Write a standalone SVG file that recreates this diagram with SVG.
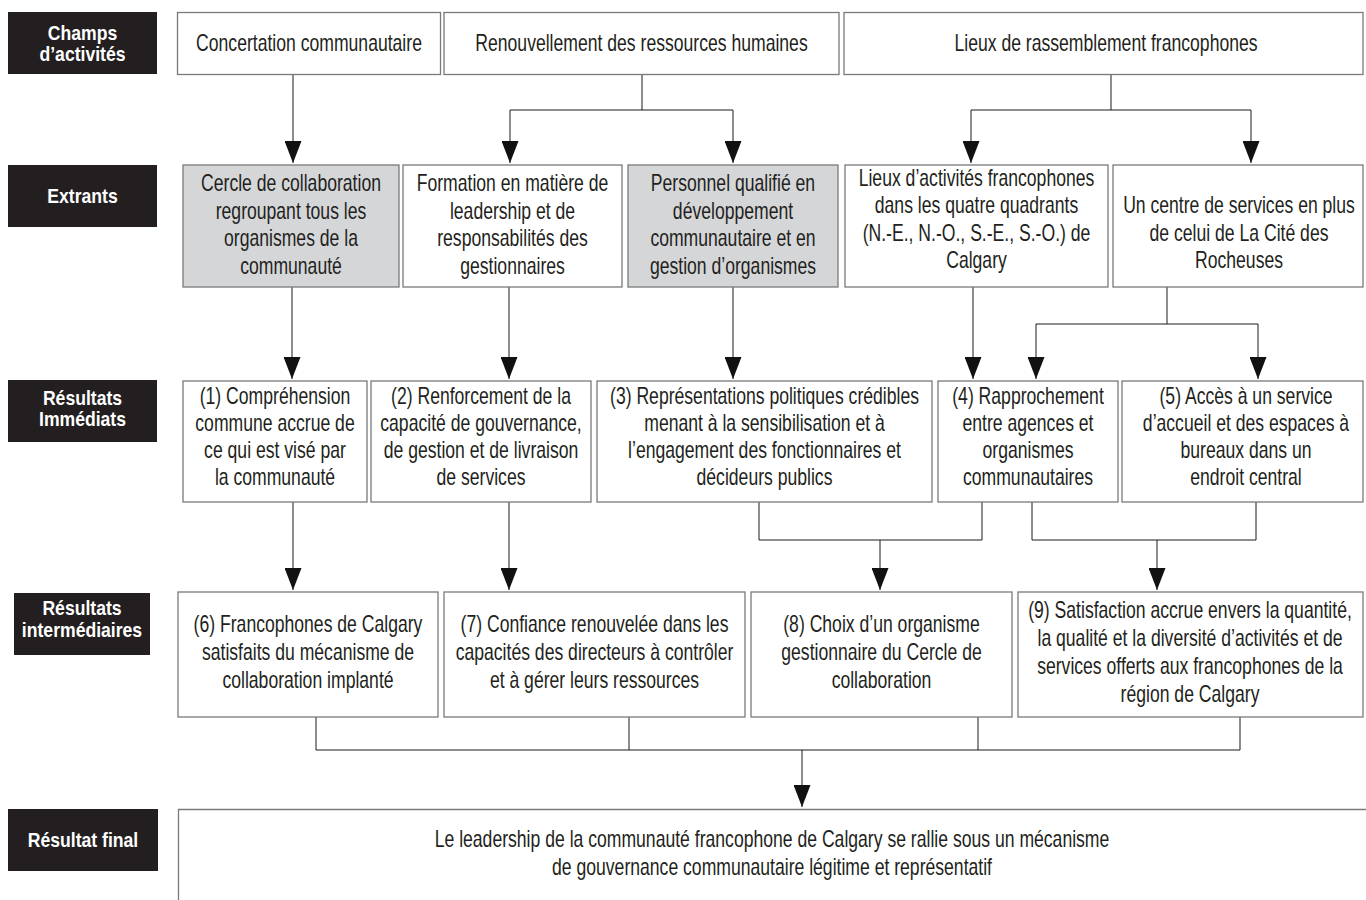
<svg xmlns="http://www.w3.org/2000/svg" width="1366" height="900" viewBox="0 0 1366 900">
<style>
.box{fill:#fff;stroke:#7a7a7a;stroke-width:1.3}
.gray{fill:#d5d6d8}
.lbl{fill:#231f20}
.t{font-family:"Liberation Sans",Arial,sans-serif;font-size:23px;fill:#231f20;text-anchor:middle}
.lt{font-family:"Liberation Sans",Arial,sans-serif;font-size:20px;font-weight:bold;fill:#fff;text-anchor:middle}
.c{fill:none;stroke:#1a1a1a;stroke-width:1}
</style>
<defs>
<marker id="ah" markerUnits="userSpaceOnUse" markerWidth="22" markerHeight="17" viewBox="0 0 22 17" refX="22" refY="8.5" orient="auto">
<path d="M0,0 L22,8.5 L0,17 z" fill="#111"/>
</marker>
</defs>
<rect width="1366" height="900" fill="#fff"/>

<g id="labels">
<g id="lbl-champs"><rect class="lbl" x="8" y="12" width="149" height="62"/>
<text class="lt" transform="translate(82.5,0) scale(0.88,1)"><tspan x="0" y="40">Champs</tspan><tspan x="0" y="61">d’activités</tspan></text></g>
<g id="lbl-extrants"><rect class="lbl" x="8" y="165" width="149" height="62"/>
<text class="lt" transform="translate(82.5,0) scale(0.88,1)"><tspan x="0" y="203">Extrants</tspan></text></g>
<g id="lbl-immediats"><rect class="lbl" x="8" y="380" width="149" height="62"/>
<text class="lt" transform="translate(82.5,0) scale(0.88,1)"><tspan x="0" y="405">Résultats</tspan><tspan x="0" y="426">Immédiats</tspan></text></g>
<g id="lbl-intermediaires"><rect class="lbl" x="14" y="593" width="136" height="62"/>
<text class="lt" transform="translate(82,0) scale(0.88,1)"><tspan x="0" y="615">Résultats</tspan><tspan x="0" y="637">intermédiaires</tspan></text></g>
<g id="lbl-final"><rect class="lbl" x="8" y="809" width="150" height="62"/>
<text class="lt" transform="translate(83,0) scale(0.88,1)"><tspan x="0" y="847">Résultat final</tspan></text></g>
</g>

<g id="connectors" class="c">
<path d="M293,74 V163" marker-end="url(#ah)"/>
<path d="M642,74 V110 M510,110 H733"/>
<path d="M510,110 V163" marker-end="url(#ah)"/>
<path d="M733,110 V163" marker-end="url(#ah)"/>
<path d="M1111,74 V110 M971,110 H1251"/>
<path d="M971,110 V163" marker-end="url(#ah)"/>
<path d="M1251,110 V163" marker-end="url(#ah)"/>
<path d="M292,287 V379" marker-end="url(#ah)"/>
<path d="M509,287 V379" marker-end="url(#ah)"/>
<path d="M733,287 V379" marker-end="url(#ah)"/>
<path d="M973,287 V379" marker-end="url(#ah)"/>
<path d="M1167,287 V324 M1036,324 H1258"/>
<path d="M1036,324 V379" marker-end="url(#ah)"/>
<path d="M1258,324 V379" marker-end="url(#ah)"/>
<path d="M293,502 V590" marker-end="url(#ah)"/>
<path d="M509,502 V590" marker-end="url(#ah)"/>
<path d="M759,502 V540 H982 V502"/>
<path d="M880,540 V590" marker-end="url(#ah)"/>
<path d="M1032,502 V540 H1256 V502"/>
<path d="M1157,540 V590" marker-end="url(#ah)"/>
<path d="M316,717 V750 H1240 V717 M629,717 V750 M978,717 V750"/>
<path d="M802,750 V807" marker-end="url(#ah)"/>
</g>

<g id="n-concertation"><rect class="box" x="177.5" y="12.5" width="263" height="62"/>
<text class="t" transform="translate(309,0) scale(0.765,1)"><tspan x="0" y="51">Concertation communautaire</tspan></text></g>
<g id="n-renouvellement"><rect class="box" x="444" y="12.5" width="395" height="62"/>
<text class="t" transform="translate(641.5,0) scale(0.765,1)"><tspan x="0" y="51">Renouvellement des ressources humaines</tspan></text></g>
<g id="n-lieux"><rect class="box" x="844" y="12.5" width="519" height="62"/>
<text class="t" transform="translate(1106,0) scale(0.765,1)"><tspan x="0" y="51">Lieux de rassemblement francophones</tspan></text></g>

<g id="n-cercle"><rect class="box gray" x="183" y="165" width="216" height="122"/>
<text class="t" transform="translate(291,0) scale(0.765,1)"><tspan x="0" y="191">Cercle de collaboration</tspan><tspan x="0" y="219">regroupant tous les</tspan><tspan x="0" y="246">organismes de la</tspan><tspan x="0" y="274">communauté</tspan></text></g>
<g id="n-formation"><rect class="box" x="403" y="165" width="219" height="122"/>
<text class="t" transform="translate(512.5,0) scale(0.765,1)"><tspan x="0" y="191">Formation en matière de</tspan><tspan x="0" y="219">leadership et de</tspan><tspan x="0" y="246">responsabilités des</tspan><tspan x="0" y="274">gestionnaires</tspan></text></g>
<g id="n-personnel"><rect class="box gray" x="628" y="165" width="210" height="122"/>
<text class="t" transform="translate(733,0) scale(0.765,1)"><tspan x="0" y="191">Personnel qualifié en</tspan><tspan x="0" y="219">développement</tspan><tspan x="0" y="246">communautaire et en</tspan><tspan x="0" y="274">gestion d’organismes</tspan></text></g>
<g id="n-lieux-activites"><rect class="box" x="845" y="165" width="263" height="122"/>
<text class="t" transform="translate(976.5,0) scale(0.765,1)"><tspan x="0" y="186">Lieux d’activités francophones</tspan><tspan x="0" y="213">dans les quatre quadrants</tspan><tspan x="0" y="241">(N.-E., N.-O., S.-E., S.-O.) de</tspan><tspan x="0" y="268">Calgary</tspan></text></g>
<g id="n-centre"><rect class="box" x="1113" y="165" width="250" height="122"/>
<text class="t" transform="translate(1239,0) scale(0.765,1)"><tspan x="0" y="213">Un centre de services en plus</tspan><tspan x="0" y="241">de celui de La Cité des</tspan><tspan x="0" y="268">Rocheuses</tspan></text></g>

<g id="n-r1"><rect class="box" x="183" y="381" width="184" height="121"/>
<text class="t" transform="translate(275,0) scale(0.765,1)"><tspan x="0" y="404">(1) Compréhension</tspan><tspan x="0" y="431">commune accrue de</tspan><tspan x="0" y="458">ce qui est visé par</tspan><tspan x="0" y="485">la communauté</tspan></text></g>
<g id="n-r2"><rect class="box" x="371" y="381" width="220" height="121"/>
<text class="t" transform="translate(481,0) scale(0.765,1)"><tspan x="0" y="404">(2) Renforcement de la</tspan><tspan x="0" y="431">capacité de gouvernance,</tspan><tspan x="0" y="458">de gestion et de livraison</tspan><tspan x="0" y="485">de services</tspan></text></g>
<g id="n-r3"><rect class="box" x="597" y="381" width="335" height="121"/>
<text class="t" transform="translate(764.5,0) scale(0.765,1)"><tspan x="0" y="404">(3) Représentations politiques crédibles</tspan><tspan x="0" y="431">menant à la sensibilisation et à</tspan><tspan x="0" y="458">l’engagement des fonctionnaires et</tspan><tspan x="0" y="485">décideurs publics</tspan></text></g>
<g id="n-r4"><rect class="box" x="938" y="381" width="180" height="121"/>
<text class="t" transform="translate(1028,0) scale(0.765,1)"><tspan x="0" y="404">(4) Rapprochement</tspan><tspan x="0" y="431">entre agences et</tspan><tspan x="0" y="458">organismes</tspan><tspan x="0" y="485">communautaires</tspan></text></g>
<g id="n-r5"><rect class="box" x="1122" y="381" width="241" height="121"/>
<text class="t" transform="translate(1246,0) scale(0.765,1)"><tspan x="0" y="404">(5) Accès à un service</tspan><tspan x="0" y="431">d’accueil et des espaces à</tspan><tspan x="0" y="458">bureaux dans un</tspan><tspan x="0" y="485">endroit central</tspan></text></g>

<g id="n-r6"><rect class="box" x="178" y="592" width="260" height="125"/>
<text class="t" transform="translate(308,0) scale(0.765,1)"><tspan x="0" y="632">(6) Francophones de Calgary</tspan><tspan x="0" y="660">satisfaits du mécanisme de</tspan><tspan x="0" y="688">collaboration implanté</tspan></text></g>
<g id="n-r7"><rect class="box" x="444" y="592" width="301" height="125"/>
<text class="t" transform="translate(594.5,0) scale(0.765,1)"><tspan x="0" y="632">(7) Confiance renouvelée dans les</tspan><tspan x="0" y="660">capacités des directeurs à contrôler</tspan><tspan x="0" y="688">et à gérer leurs ressources</tspan></text></g>
<g id="n-r8"><rect class="box" x="751" y="592" width="261" height="125"/>
<text class="t" transform="translate(881.5,0) scale(0.765,1)"><tspan x="0" y="632">(8) Choix d’un organisme</tspan><tspan x="0" y="660">gestionnaire du Cercle de</tspan><tspan x="0" y="688">collaboration</tspan></text></g>
<g id="n-r9"><rect class="box" x="1018" y="592" width="345" height="125"/>
<text class="t" transform="translate(1190,0) scale(0.765,1)"><tspan x="0" y="618">(9) Satisfaction accrue envers la quantité,</tspan><tspan x="0" y="646">la qualité et la diversité d’activités et de</tspan><tspan x="0" y="674">services offerts aux francophones de la</tspan><tspan x="0" y="702">région de Calgary</tspan></text></g>

<g id="n-final"><path class="box" d="M1366,809.5 H178.5 V900" fill="none"/>
<text class="t" transform="translate(772,0) scale(0.765,1)"><tspan x="0" y="847">Le leadership de la communauté francophone de Calgary se rallie sous un mécanisme</tspan><tspan x="0" y="875">de gouvernance communautaire légitime et représentatif</tspan></text></g>
</svg>
